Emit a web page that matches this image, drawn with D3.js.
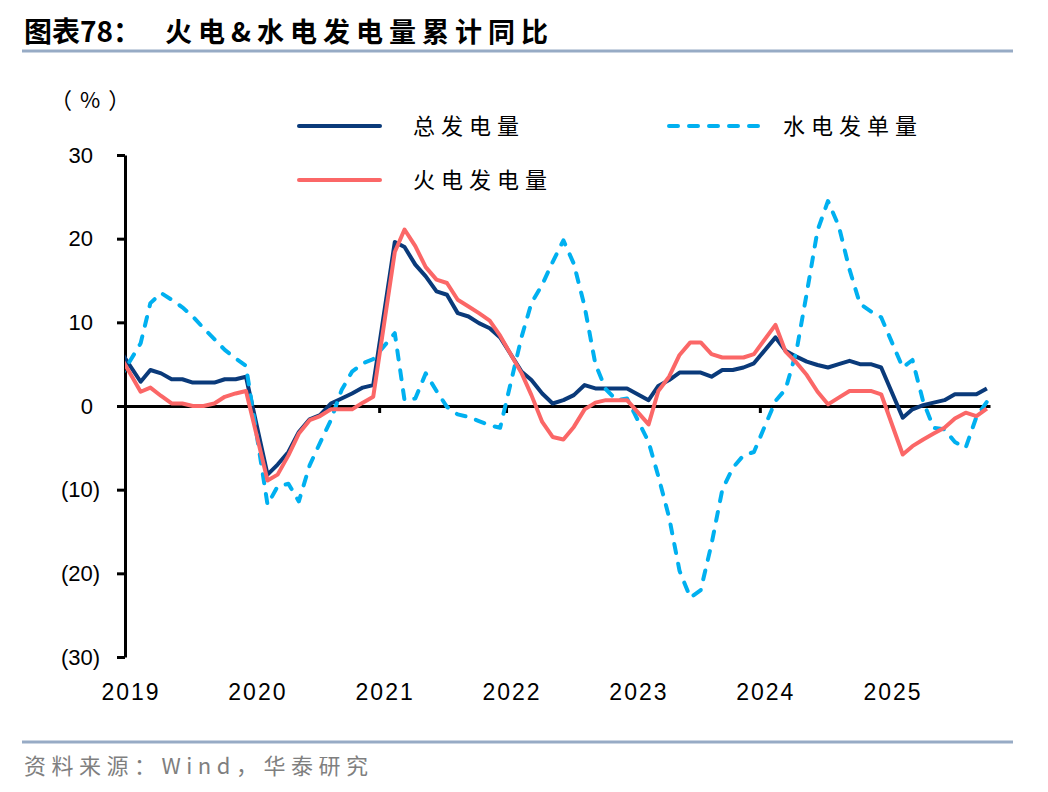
<!DOCTYPE html>
<html>
<head>
<meta charset="utf-8">
<script src="https://cdn.jsdelivr.net/npm/d3@7"></script>
<style>
  body { margin: 0; background: #fff; }
  text { font-family: "Liberation Sans", Arial, sans-serif; }
  .cjk { font-family: "Noto Sans CJK SC", sans-serif; }
</style>
</head>
<body>
<script>
// 火电&水电发电量累计同比 (%), monthly cumulative YoY (Jan merged into Feb)
const months = [
  "2018-12",
  "2019-02","2019-03","2019-04","2019-05","2019-06","2019-07","2019-08","2019-09","2019-10","2019-11","2019-12",
  "2020-02","2020-03","2020-04","2020-05","2020-06","2020-07","2020-08","2020-09","2020-10","2020-11","2020-12",
  "2021-02","2021-03","2021-04","2021-05","2021-06","2021-07","2021-08","2021-09","2021-10","2021-11","2021-12",
  "2022-02","2022-03","2022-04","2022-05","2022-06","2022-07","2022-08","2022-09","2022-10","2022-11","2022-12",
  "2023-02","2023-03","2023-04","2023-05","2023-06","2023-07","2023-08","2023-09","2023-10","2023-11","2023-12",
  "2024-02","2024-03","2024-04","2024-05","2024-06","2024-07","2024-08","2024-09","2024-10","2024-11","2024-12",
  "2025-02","2025-03","2025-04","2025-05","2025-06","2025-07","2025-08","2025-09","2025-10"
];
const totalGen = [
  6.8,
  2.9, 4.3, 3.9, 3.2, 3.2, 2.8, 2.8, 2.8, 3.2, 3.2, 3.5,
  -8.2, -7.0, -5.5, -3.1, -1.6, -1.1, 0.3, 0.9, 1.5, 2.2, 2.5,
  19.6, 19.0, 16.9, 15.5, 13.7, 13.3, 11.1, 10.7, 9.9, 9.3, 8.2,
  4.1, 3.1, 1.5, 0.3, 0.7, 1.3, 2.5, 2.1, 2.1, 2.1, 2.1,
  0.7, 2.4, 3.1, 4.0, 4.0, 4.0, 3.5, 4.3, 4.3, 4.6, 5.1,
  8.2, 6.6, 5.9, 5.3, 4.9, 4.6, 5.0, 5.4, 5.0, 5.0, 4.6,
  -1.4, -0.4, 0.1, 0.4, 0.7, 1.4, 1.4, 1.4, 2.1
];
const hydroGen = [
  3.2,
  7.5, 12.3, 13.5, 12.7, 11.8, 10.7, 9.3, 8.0, 6.7, 5.7, 4.8,
  -11.8, -9.6, -9.3, -11.4, -7.1, -4.4, -1.7, 1.9, 4.1, 5.1, 5.6,
  8.7, 0.7, 0.9, 3.9, 1.8, -0.1, -1.0, -1.3, -1.8, -2.3, -2.6,
  8.3, 12.3, 14.5, 17.2, 19.8, 17.0, 11.9, 5.0, 2.0, 0.7, 0.9,
  -4.3, -8.4, -13.3, -19.7, -22.9, -22.0, -16.5, -10.0, -7.4, -5.9, -5.5,
  0.6, 2.0, 6.5, 13.5, 21.0, 24.5, 21.5, 16.3, 12.2, 11.3, 10.6,
  4.6, 5.5, 0.5, -2.6, -2.8, -4.3, -5.0, -1.3, 0.5
];
const thermalGen = [
  6.2,
  1.7, 2.2, 1.2, 0.3, 0.3, 0.0, 0.0, 0.3, 1.1, 1.5, 1.8,
  -8.9, -8.2, -5.9, -3.3, -1.7, -1.2, -0.4, -0.4, -0.4, 0.4, 1.1,
  18.4, 21.1, 19.1, 16.6, 15.1, 14.7, 12.7, 11.9, 11.1, 10.2, 8.4,
  3.9, 1.3, -1.9, -3.7, -4.0, -2.5, -0.4, 0.4, 0.7, 0.7, 0.7,
  -2.2, 1.8, 3.5, 6.1, 7.6, 7.6, 6.2, 5.8, 5.8, 5.8, 6.2,
  9.7, 6.5, 5.2, 3.7, 1.7, 0.2, 1.0, 1.8, 1.8, 1.8, 1.4,
  -5.8, -4.8, -4.0, -3.3, -2.6, -1.5, -0.8, -1.2, -0.3
];
const yearLabels = ["2019", "2020", "2021", "2022", "2023", "2024", "2025"];
const yTicks = [30, 20, 10, 0, -10, -20, -30];

const w = 1048, h = 792;
const svg = d3.select('body').append('svg')
    .attr('width', w)
    .attr('height', h);

const parseMonth = d3.timeParse('%Y-%m');
const midMonth = s => d3.timeDay.offset(parseMonth(s), 14);

const x = d3.scaleTime()
    .domain([new Date(2019, 0, 1), new Date(2025, 9, 24)])
    .range([125, 990]);
const y = d3.scaleLinear()
    .domain([-30, 30])
    .range([657, 155]);

// title + rules
svg.append('text').attr('class', 'cjk')
    .attr('x', 24).attr('y', 42)
    .attr('font-size', 28).attr('font-weight', 'bold')
    .text('图表78：');
svg.append('text').attr('class', 'cjk')
    .attr('x', 165).attr('y', 42)
    .attr('font-size', 27).attr('font-weight', 'bold')
    .attr('letter-spacing', 6)
    .text('火电&水电发电量累计同比');
svg.append('line').attr('x1', 22).attr('x2', 1013).attr('y1', 51).attr('y2', 51)
    .attr('stroke', '#97abc5').attr('stroke-width', 3);
svg.append('line').attr('x1', 22).attr('x2', 1013).attr('y1', 742).attr('y2', 742)
    .attr('stroke', '#97abc5').attr('stroke-width', 3);
svg.append('text').attr('class', 'cjk')
    .attr('x', 24).attr('y', 774)
    .attr('font-size', 22).attr('fill', '#7f7f7f')
    .attr('letter-spacing', 5.5)
    .text('资料来源：Wind，华泰研究');

// unit
svg.append('text').attr('class', 'cjk')
    .attr('x', 50).attr('y', 108)
    .attr('font-size', 22)
    .attr('letter-spacing', 8)
    .text('（%）');

// y axis
const yAxis = svg.append('g')
    .attr('transform', 'translate(125,0)')
    .call(d3.axisLeft(y).tickValues(yTicks).tickSize(8).tickSizeOuter(0).tickPadding(17)
        .tickFormat(v => v < 0 ? '(' + (-v) + ')' : String(v)));
yAxis.select('.domain').attr('stroke', '#000').attr('stroke-width', 3);
yAxis.selectAll('.tick line').attr('stroke', '#000').attr('stroke-width', 3);
yAxis.selectAll('.tick text')
    .attr('font-family', '"Liberation Sans", Arial, sans-serif')
    .attr('font-size', 22).attr('fill', '#000')
    .attr('dx', v => v >= 0 ? -7 : 0);

// x axis on zero line
const years = yearLabels.map(s => new Date(+s, 0, 1));
const xAxis = svg.append('g')
    .attr('transform', `translate(0,${y(0)})`)
    .call(d3.axisBottom(x).tickValues(years.slice(1)).tickSize(7).tickSizeOuter(0).tickFormat(''));
xAxis.select('.domain').attr('stroke', '#000').attr('stroke-width', 3);
xAxis.selectAll('.tick line').attr('stroke', '#000').attr('stroke-width', 3);

svg.append('g').selectAll('text')
    .data(years)
    .enter()
    .append('text')
    .attr('x', d => x(d) + 6)
    .attr('y', 700)
    .attr('text-anchor', 'middle')
    .attr('font-size', 23)
    .attr('letter-spacing', 2)
    .text(d => d.getFullYear());

// series
svg.append('clipPath').attr('id', 'plot')
    .append('rect').attr('x', 125).attr('y', 100).attr('width', 900).attr('height', 600);

const line = d3.line()
    .x(d => x(midMonth(d.m)))
    .y(d => y(d.v));

const series = [
  { name: '总发电量', values: totalGen, color: '#0a3a7a', dash: null },
  { name: '水电发单量', values: hydroGen, color: '#00b0f0', dash: '9 11' },
  { name: '火电发电量', values: thermalGen, color: '#fb6767', dash: null }
];

svg.append('g').attr('clip-path', 'url(#plot)')
    .selectAll('path')
    .data(series)
    .enter()
    .append('path')
    .attr('d', s => line(months.map((m, i) => ({ m: m, v: s.values[i] }))))
    .attr('fill', 'none')
    .attr('stroke', s => s.color)
    .attr('stroke-width', 4)
    .attr('stroke-linejoin', 'round')
    .attr('stroke-linecap', s => s.dash ? 'round' : 'butt')
    .attr('stroke-dasharray', s => s.dash);

// legend
const legendPos = [
  { x: 297, y: 126 },
  { x: 667, y: 126 },
  { x: 297, y: 180 }
];
const legend = svg.append('g').selectAll('g')
    .data(series)
    .enter()
    .append('g')
    .attr('transform', (s, i) => `translate(${legendPos[i].x},${legendPos[i].y})`);
legend.append('line')
    .attr('x1', 2).attr('x2', s => s.dash ? 98 : 83)
    .attr('stroke', s => s.color)
    .attr('stroke-width', 4)
    .attr('stroke-linecap', 'round')
    .attr('stroke-dasharray', s => s.dash);
legend.append('text').attr('class', 'cjk')
    .attr('x', 116)
    .attr('y', 8)
    .attr('font-size', 22)
    .attr('letter-spacing', 6)
    .text(s => s.name);
</script>
</body>
</html>
